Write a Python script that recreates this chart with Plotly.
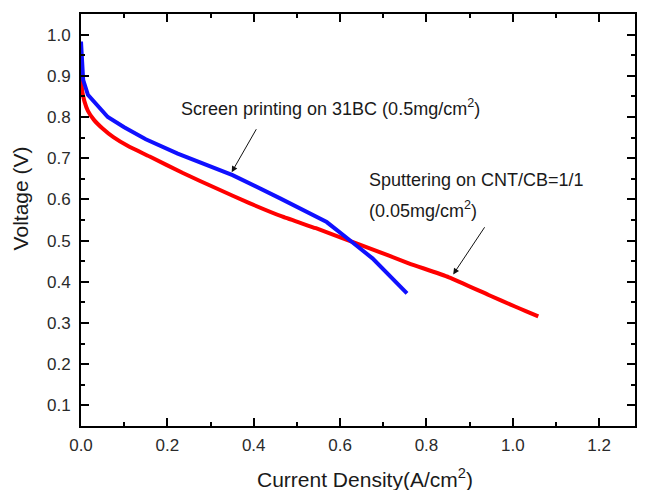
import plotly.graph_objects as go

# Data
blue_i = [0.0, 0.002, 0.005, 0.016, 0.062, 0.1, 0.15, 0.224, 0.293, 0.351, 0.46, 0.569, 0.621, 0.675, 0.755]
blue_v = [0.983, 0.94, 0.89, 0.854, 0.80, 0.775, 0.746, 0.711, 0.683, 0.659, 0.603, 0.545, 0.502, 0.457, 0.372]

red_i = [0.0, 0.003, 0.008, 0.016, 0.03, 0.05, 0.075, 0.108, 0.159, 0.236, 0.313, 0.39, 0.467,
         0.544, 0.605, 0.667, 0.759, 0.852, 0.944, 1.005, 1.03, 1.059]
red_v = [0.895, 0.862, 0.838, 0.815, 0.793, 0.772, 0.751, 0.73, 0.704, 0.664, 0.627, 0.591, 0.558,
         0.530, 0.506, 0.482, 0.445, 0.411, 0.368, 0.340, 0.329, 0.316]

label_blue = "Screen printing on 31BC (0.5mg/cm<sup>2</sup>)"
label_red_1 = "Sputtering on CNT/CB=1/1"
label_red_2 = "(0.05mg/cm<sup>2</sup>)"
x_title = "Current Density(A/cm<sup>2</sup>)"
y_title = "Voltage (V)"

FONT = "Liberation Sans, Arial, sans-serif"
TXT = "#1a1a1a"

fig = go.Figure()
fig.add_trace(go.Scatter(x=red_i, y=red_v, mode="lines",
                         line=dict(color="#ff0000", width=4, shape="spline", smoothing=0.5),
                         showlegend=False))
fig.add_trace(go.Scatter(x=blue_i, y=blue_v, mode="lines",
                         line=dict(color="#1010ff", width=4), showlegend=False))

axis_common = dict(
    showline=True, linecolor="black", linewidth=2, mirror="allticks",
    ticks="inside", ticklen=8, tickwidth=1.5, tickcolor="black",
    showgrid=False, zeroline=False,
    tickfont=dict(family=FONT, size=17, color="#2a2a2a"),
)

fig.update_xaxes(
    range=[0, 1.283], tick0=0, dtick=0.2, tickformat=".1f",
    minor=dict(ticks="inside", dtick=0.1, ticklen=4, tickwidth=1.5, tickcolor="black"),
    ticklabelstandoff=3,
    **axis_common,
)
fig.update_yaxes(
    range=[0.05, 1.05], tick0=0, dtick=0.1, tickformat=".1f",
    minor=dict(ticks="inside", dtick=0.05, ticklen=4, tickwidth=1.5, tickcolor="black"),
    ticklabelstandoff=5,
    **axis_common,
)

# Axis titles
fig.add_annotation(x=0.5126, y=-0.126, xref="paper", yref="paper", text=x_title,
                   showarrow=False, xanchor="center", yanchor="middle",
                   font=dict(family=FONT, size=21, color=TXT))
fig.add_annotation(x=-0.1097, y=0.553, xref="paper", yref="paper", text=y_title,
                   showarrow=False, xanchor="center", yanchor="middle", textangle=-90,
                   font=dict(family=FONT, size=21, color=TXT))

# Text labels
fig.add_annotation(x=0.578, y=0.822, text=label_blue, showarrow=False,
                   xanchor="center", yanchor="middle",
                   font=dict(family=FONT, size=18, color=TXT))
fig.add_annotation(x=0.662, y=0.647, text=label_red_1, showarrow=False,
                   xanchor="left", yanchor="middle",
                   font=dict(family=FONT, size=18, color=TXT))
fig.add_annotation(x=0.662, y=0.576, text=label_red_2, showarrow=False,
                   xanchor="left", yanchor="middle",
                   font=dict(family=FONT, size=18, color=TXT))

# Arrows
fig.add_annotation(x=0.349, y=0.666, ax=0.408, ay=0.774, axref="x", ayref="y",
                   text="", showarrow=True, arrowhead=2, arrowsize=1.2, arrowwidth=1,
                   arrowcolor="#111")
fig.add_annotation(x=0.862, y=0.418, ax=0.937, ay=0.536, axref="x", ayref="y",
                   text="", showarrow=True, arrowhead=2, arrowsize=1.2, arrowwidth=1,
                   arrowcolor="#111")

fig.update_layout(
    width=645, height=490,
    margin=dict(l=81, r=8, t=14, b=64),
    plot_bgcolor="white", paper_bgcolor="white",
    font=dict(family=FONT),
)

fig.write_html("out.html")
